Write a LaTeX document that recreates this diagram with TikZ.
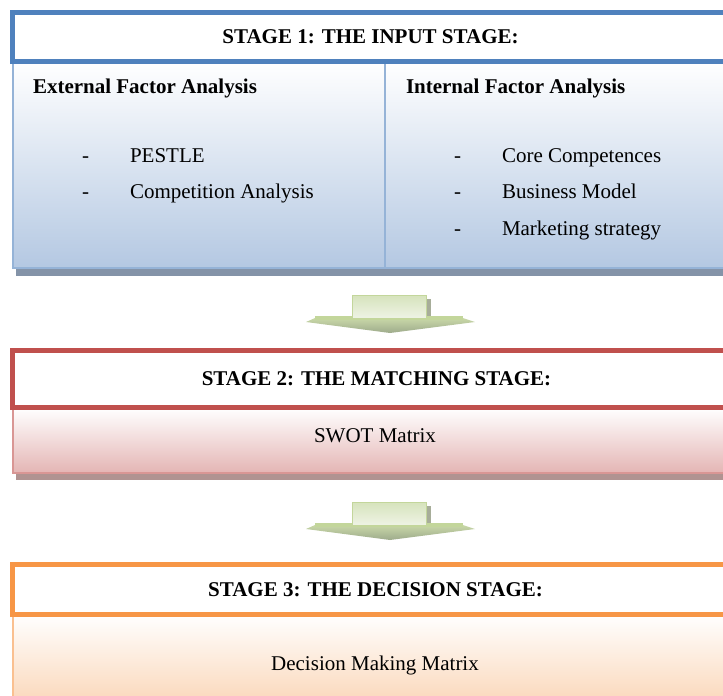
\documentclass[tikz,border=0pt]{standalone}
\usepackage{fontspec}
\setmainfont{Liberation Serif}
\usetikzlibrary{positioning}

% stage colours
\definecolor{inputblue}{HTML}{4F81BD}
\definecolor{inputline}{HTML}{95B3D7}
\definecolor{inputfill}{HTML}{B4C8E2}
\definecolor{inputshadow}{HTML}{8493A8}
\definecolor{matchred}{HTML}{C0504D}
\definecolor{matchline}{HTML}{D99694}
\definecolor{matchfill}{HTML}{E4B5B4}
\definecolor{matchshadow}{HTML}{B09391}
\definecolor{decorange}{HTML}{F79646}
\definecolor{decline}{HTML}{FAC090}
\definecolor{decfill}{HTML}{FAD3B2}
% block arrow colours
\definecolor{arrowline}{HTML}{C3D69B}
\definecolor{shaftlight}{HTML}{EEF3E4}
\definecolor{shaftdark}{HTML}{D6E3BC}
\definecolor{headlight}{HTML}{C9D8A8}
\definecolor{headdark}{HTML}{9EAB8C}
\definecolor{arrowshade}{HTML}{A7AD99}

% downward block arrow, top centre at (#1,#2)
\newcommand{\stagearrow}[2]{%
  \begin{scope}[shift={(#1,#2)}]
    \fill[arrowshade] (37,4) rectangle (42,23);
    \shade[top color=headlight, bottom color=headdark]
      (-74,23) -- (74,23) -- (86,27) -- (1,38) -- (-83,27) -- cycle;
    \fill[arrowline] (-74,21) rectangle (74,24.5);
    \shade[top color=shaftdark, bottom color=shaftlight, draw=arrowline, line width=1pt]
      (-37,0) rectangle (37,23);
  \end{scope}}

\begin{document}
\begin{tikzpicture}[
        x=1pt, y=-1pt,  % page points, y running down
        every node/.style={font=\fontsize{21}{25}\selectfont, inner sep=0pt, outer sep=0pt},
        stagehead/.style={draw=#1, line width=4.5pt, fill=white, anchor=north west,
                          font=\bfseries\fontsize{21}{25}\selectfont},
        stagebody/.style={draw=#1, line width=1.5pt, anchor=north west},
        listtext/.style={anchor=base west},
        boldtext/.style={anchor=base west, font=\bfseries\fontsize{21}{25}\selectfont}
    ]
    \useasboundingbox (0,0) rectangle (723,696);
    \clip (0,0) rectangle (723,696);

    % stage 1
    \fill[inputshadow] (16,266) rectangle (745,276);
    \node[stagebody=inputline, top color=white, bottom color=inputfill,
          minimum width=372pt, minimum height=206pt] (ext) at (13,62) {};
    \node[stagebody=inputline, top color=white, bottom color=inputfill,
          minimum width=360pt, minimum height=206pt] (int) at (385,62) {};
    \node[stagehead=inputblue, minimum width=716pt, minimum height=49pt] (inhead) at (12.5,12.5)
        {STAGE 1: THE INPUT STAGE:};

    \node[boldtext] (exttitle) at (33,93) {External Factor Analysis};
    \node[listtext] (extdasha) at (82,162) {-};
    \node[listtext] (pestle) at (130,162) {PESTLE};
    \node[listtext] (extdashb) at (82,198) {-};
    \node[listtext] (compet) at (130,198) {Competition Analysis};

    \node[boldtext] (inttitle) at (406,93) {Internal Factor Analysis};
    \node[listtext] (intdasha) at (454,162) {-};
    \node[listtext] (core) at (502,162) {Core Competences};
    \node[listtext] (intdashb) at (454,198) {-};
    \node[listtext] (busmodel) at (502,198) {Business Model};
    \node[listtext] (intdashc) at (454,235) {-};
    \node[listtext] (market) at (502,235) {Marketing strategy};

    \stagearrow{389}{295}

    % stage 2
    \fill[matchshadow] (16,471) rectangle (745,480);
    \node[stagebody=matchline, top color=white, bottom color=matchfill,
          minimum width=732pt, minimum height=65pt] (matchbody) at (13,408) {};
    \node[stagehead=matchred, minimum width=728pt, minimum height=57pt] (matchhead) at (12.5,350.5)
        {STAGE 2: THE MATCHING STAGE:};
    \node (swot) at (375,436) {SWOT Matrix};

    \stagearrow{389}{502}

    % stage 3
    \node[stagebody=decline, top color=white, bottom color=decfill,
          minimum width=732pt, minimum height=100pt] (decbody) at (13,614) {};
    \node[stagehead=decorange, minimum width=726pt, minimum height=50pt] (dechead) at (12.5,564.5)
        {STAGE 3: THE DECISION STAGE:};
    \node[anchor=base] (decmatrix) at (375,670) {Decision Making Matrix};
\end{tikzpicture}
\end{document}
